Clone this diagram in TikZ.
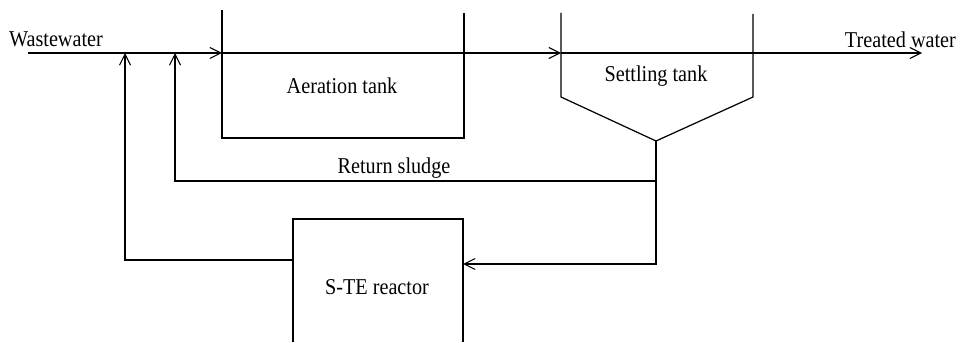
\documentclass[tikz,border=0pt]{standalone}
\usepackage{fontspec}
\setmainfont{Liberation Serif}
\usetikzlibrary{positioning, arrows.meta}

\begin{document}
\begin{tikzpicture}[
  wall/.style={line width=0.7pt, black},
  flow/.style={-{Straight Barb[length=2.2mm, width=2.2mm]}, line width=0.6pt, black},
  pipe/.style={line width=0.6pt, black},
  label/.style={font=\fontsize{11.5}{13}\selectfont, inner sep=1pt, yscale=1.12, transform shape},
]

\useasboundingbox (0,0) rectangle (19.2,6.84);

%% ── Main line points ─────────────────────────────────────────────────────────
\coordinate (ww)    at (0.56, 5.78);
\coordinate (aerIn) at (4.44, 5.78);
\coordinate (setIn) at (11.22, 5.78);
\coordinate (out)   at (18.44, 5.78);

%% ── Aeration tank ────────────────────────────────────────────────────────────
\coordinate (aerTL) at (4.44, 6.64);
\coordinate (aerBL) at (4.44, 4.08);
\coordinate (aerBR) at (9.28, 4.08);
\coordinate (aerTR) at (9.28, 6.58);
\draw[wall] (aerTL) -- (aerBL) -- (aerBR) -- (aerTR);
\node[label] (aer) at (6.84, 5.12) {Aeration tank};

%% ── Settling tank ────────────────────────────────────────────────────────────
\coordinate (setTL)  at (11.22, 6.58);
\coordinate (setML)  at (11.22, 4.90);
\coordinate (setBot) at (13.12, 4.02);
\coordinate (setMR)  at (15.06, 4.90);
\coordinate (setTR)  at (15.06, 6.56);
\draw[wall] (setTL) -- (setML) -- (setBot) -- (setMR) -- (setTR);
\node[label] (set) at (13.12, 5.32) {Settling tank};

%% ── S-TE reactor ─────────────────────────────────────────────────────────────
\coordinate (reBL) at (5.86, 0);
\coordinate (reTL) at (5.86, 2.46);
\coordinate (reTR) at (9.26, 2.46);
\coordinate (reBR) at (9.26, 0);
\draw[wall] (reBL) -- (reTL) -- (reTR) -- (reBR);
\node[label] (ste) at (7.54, 1.10) {S-TE reactor};

%% ── Main flow ────────────────────────────────────────────────────────────────
\draw[flow] (ww) -- (aerIn);
\draw[flow] (aerIn) -- (setIn);
\draw[flow] (setIn) -- (out);
\node[label, anchor=west] (wwlab) at (0.14, 6.06) {Wastewater};
\node[label, anchor=east] (outlab) at (19.16, 6.04) {Treated water};

%% ── Return sludge ────────────────────────────────────────────────────────────
\coordinate (sj)   at (13.12, 3.22);
\coordinate (rs)   at (3.50, 3.22);
\coordinate (rsIn) at (3.50, 5.78);
\draw[flow] (setBot) -- (sj) -- (rs) -- (rsIn);
\node[label] (rslab) at (7.88, 3.48) {Return sludge};

%% ── Reactor loop ─────────────────────────────────────────────────────────────
\coordinate (rj)    at (13.12, 1.56);
\coordinate (reIn)  at (9.26, 1.56);
\coordinate (reOut) at (5.86, 1.64);
\coordinate (rl)    at (2.50, 1.64);
\coordinate (rlIn)  at (2.50, 5.78);
\draw[flow] (sj) -- (rj) -- (reIn);
\draw[flow] (reOut) -- (rl) -- (rlIn);

\end{tikzpicture}
\end{document}
